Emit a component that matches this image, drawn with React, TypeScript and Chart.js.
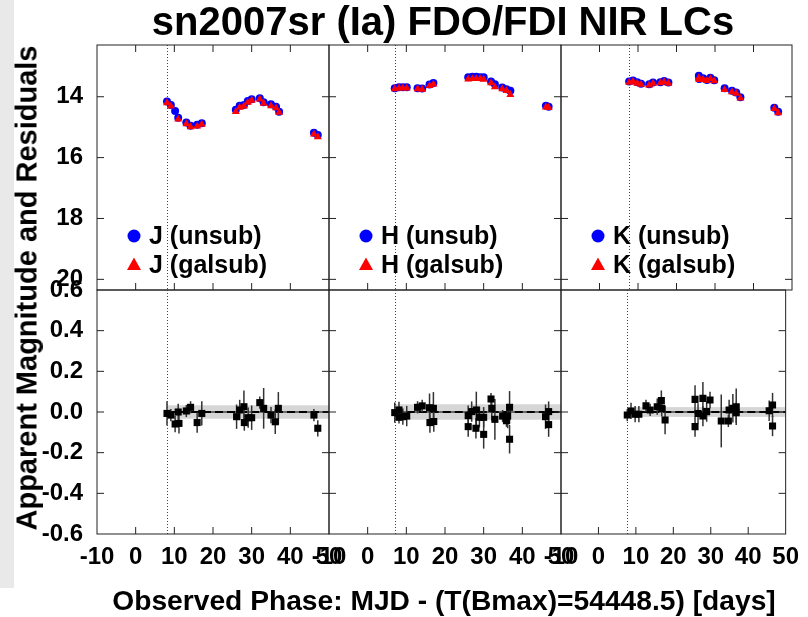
import React, { useEffect, useRef } from "react";
import { Chart, registerables } from "chart.js";
Chart.register(...registerables);

// ---------- data ----------
const X_TICKS = [-10, 0, 10, 20, 30, 40, 50];
const MAG_TICKS = [14, 16, 18, 20];
const RES_TICKS = [-0.6, -0.4, -0.2, 0.0, 0.2, 0.4, 0.6];
const BANDS = ["J", "H", "K"];

// J band light curve
const J_PHASE = [8.1, 9.1, 10.2, 11.0, 13.1, 14.2, 15.9, 17.1, 25.9, 26.9, 28.0, 29.0, 30.0, 32.1, 33.1, 35.0, 36.3, 37.1, 46.1, 47.1];
const J_UNSUB = [14.16, 14.27, 14.47, 14.69, 14.85, 14.95, 14.92, 14.87, 14.43, 14.30, 14.27, 14.14, 14.08, 14.05, 14.18, 14.25, 14.33, 14.49, 15.18, 15.26];
const J_GALSUB = [14.20, 14.31, null, 14.74, 14.89, 14.99, 14.97, 14.91, 14.49, 14.35, 14.31, 14.19, 14.12, 14.08, 14.22, 14.30, 14.37, 14.52, 15.23, 15.32];
// J residuals
const J_RES_PHASE = [8.1, 9.1, 10.2, 11.0, 11.2, 13.1, 14.2, 15.9, 17.1, 26.1, 26.9, 28.0, 28.1, 29.1, 30.0, 32.1, 33.1, 35.0, 36.1, 36.9, 46.1, 47.1];
const J_RES = [-0.007, -0.015, -0.059, 0.000, -0.056, 0.005, 0.023, -0.052, -0.007, -0.023, 0.010, 0.026, -0.052, -0.028, -0.028, 0.046, 0.018, -0.015, -0.048, 0.018, -0.015, -0.080];
const J_RES_ERR = [0.06, 0.03, 0.04, 0.04, 0.05, 0.03, 0.03, 0.05, 0.06, 0.06, 0.05, 0.08, 0.04, 0.05, 0.06, 0.03, 0.10, 0.04, 0.06, 0.08, 0.03, 0.04];

// H band light curve
const H_PHASE = [7.0, 8.1, 9.1, 10.1, 12.9, 14.1, 16.0, 17.0, 26.0, 27.1, 28.1, 29.1, 30.0, 31.9, 32.9, 34.8, 35.9, 36.9, 46.1, 46.8];
const H_UNSUB = [13.72, 13.69, 13.69, 13.69, 13.72, 13.73, 13.60, 13.55, 13.36, 13.34, 13.34, 13.36, 13.36, 13.50, 13.59, 13.70, 13.75, 13.80, 14.30, 14.33];
const H_GALSUB = [13.74, 13.72, 13.72, 13.72, 13.74, 13.76, 13.64, 13.59, 13.42, 13.41, 13.41, 13.41, 13.43, 13.55, 13.68, 13.74, 13.80, 13.93, 14.34, 14.36];
// H residuals
const H_RES_PHASE = [7.0, 8.1, 8.1, 9.1, 10.1, 12.9, 14.1, 16.0, 17.0, 16.1, 17.1, 26.0, 26.0, 26.9, 28.1, 28.0, 28.9, 30.0, 30.0, 31.9, 32.1, 32.9, 34.9, 35.9, 36.2, 36.7, 36.7, 46.0, 46.8, 46.8];
const H_RES = [-0.003, 0.010, -0.026, -0.023, -0.020, 0.023, 0.030, 0.021, 0.018, -0.052, -0.047, -0.018, -0.072, 0.002, 0.010, -0.080, -0.026, -0.026, -0.110, 0.064, 0.018, -0.036, -0.020, -0.043, -0.020, 0.023, -0.134, -0.023, 0.002, -0.062];
const H_RES_ERR = [0.05, 0.04, 0.03, 0.04, 0.05, 0.03, 0.03, 0.07, 0.08, 0.05, 0.05, 0.05, 0.05, 0.05, 0.09, 0.05, 0.05, 0.05, 0.07, 0.03, 0.06, 0.10, 0.03, 0.03, 0.06, 0.08, 0.07, 0.06, 0.05, 0.06];

// K band light curve
const K_PHASE = [7.7, 8.7, 9.8, 10.8, 12.9, 13.9, 15.8, 16.8, 17.9, 25.8, 25.9, 26.9, 27.9, 28.8, 29.8, 32.5, 34.4, 35.5, 36.6, 45.4, 46.4];
const K_UNSUB = [13.50, 13.47, 13.52, 13.57, 13.59, 13.53, 13.52, 13.48, 13.53, 13.31, 13.42, 13.39, 13.45, 13.38, 13.46, 13.72, 13.80, 13.86, 14.02, 14.36, 14.49];
const K_GALSUB = [13.53, 13.50, 13.56, 13.60, 13.62, 13.56, 13.55, 13.51, 13.56, 13.38, 13.44, 13.43, 13.47, 13.41, 13.48, 13.77, 13.84, 13.89, 14.05, 14.39, 14.53];
// K residuals
const K_RES_PHASE = [7.7, 8.7, 9.8, 10.8, 12.7, 13.8, 15.7, 16.8, 16.9, 17.8, 25.8, 25.8, 26.6, 27.9, 27.9, 28.9, 29.8, 32.8, 34.7, 34.9, 35.9, 36.8, 36.8, 45.6, 46.5, 46.5];
const K_RES = [-0.015, 0.005, -0.011, -0.011, 0.030, 0.010, 0.026, 0.056, 0.018, -0.039, 0.062, -0.072, -0.007, 0.067, -0.020, 0.002, 0.059, -0.044, -0.044, 0.010, 0.018, 0.026, -0.003, 0.006, 0.034, -0.069];
const K_RES_ERR = [0.03, 0.04, 0.04, 0.04, 0.03, 0.03, 0.04, 0.05, 0.04, 0.07, 0.07, 0.05, 0.05, 0.08, 0.05, 0.05, 0.04, 0.13, 0.03, 0.05, 0.07, 0.09, 0.05, 0.05, 0.06, 0.05];

// first-epoch markers (dotted lines) and residual scatter bands
const FIRST_EPOCH = [8.1, 7.0, 7.7];
const RES_SIGMA = [0.033, 0.038, 0.024];

const TITLE = "sn2007sr (Ia) FDO/FDI NIR LCs";
const X_LABEL = "Observed Phase: MJD - (T(Bmax)=54448.5) [days]";
const Y_LABEL = "Apparent Magnitude and Residuals";

// ---------- layout ----------
const W = 808, H = 617;
const COLS = [[97, 329], [329, 561], [561, 792]];
const ROW_TOP = [45, 290];
const ROW_BOT = [290, 534];
const FONT = '"Liberation Sans", Arial, Helvetica, sans-serif';
const Y_AXIS_W = 70;
const X_AXIS_H = 40;

const LC = [
  { phase: J_PHASE, unsub: J_UNSUB, galsub: J_GALSUB },
  { phase: H_PHASE, unsub: H_UNSUB, galsub: H_GALSUB },
  { phase: K_PHASE, unsub: K_UNSUB, galsub: K_GALSUB },
];
const RES = [
  { phase: J_RES_PHASE, res: J_RES, err: J_RES_ERR },
  { phase: H_RES_PHASE, res: H_RES, err: H_RES_ERR },
  { phase: K_RES_PHASE, res: K_RES, err: K_RES_ERR },
];

type PanelSpec = { col: number; row: "top" | "bottom" };
const PANELS: PanelSpec[] = [
  { col: 0, row: "top" }, { col: 1, row: "top" }, { col: 2, row: "top" },
  { col: 0, row: "bottom" }, { col: 1, row: "bottom" }, { col: 2, row: "bottom" },
];

function xy(xs: number[], ys: (number | null)[]) {
  const out: { x: number; y: number }[] = [];
  xs.forEach((x, i) => {
    const y = ys[i];
    if (y !== null && y !== undefined) out.push({ x, y });
  });
  return out;
}

function makePlugin(p: PanelSpec) {
  const isTop = p.row === "top";
  return {
    id: "panelDecor" + p.col + p.row,
    beforeDatasetsDraw(chart: any) {
      const { ctx, chartArea: a, scales } = chart;
      const xs = scales.x, ys = scales.y;
      ctx.save();
      if (!isTop) {
        const t0 = FIRST_EPOCH[p.col];
        const x0 = xs.getPixelForValue(t0);
        const x1 = xs.getPixelForValue(50);
        const s = RES_SIGMA[p.col];
        const yt = ys.getPixelForValue(s), yb = ys.getPixelForValue(-s);
        ctx.fillStyle = "#d6d6d6";
        ctx.fillRect(x0, yt, x1 - x0, yb - yt);
        const y0 = ys.getPixelForValue(0);
        ctx.strokeStyle = "#000";
        ctx.lineWidth = 1;
        ctx.beginPath(); ctx.moveTo(x0, y0); ctx.lineTo(x1, y0); ctx.stroke();
        ctx.setLineDash([8, 4]);
        ctx.lineWidth = 2;
        ctx.beginPath(); ctx.moveTo(x0, y0); ctx.lineTo(x1, y0); ctx.stroke();
        ctx.setLineDash([]);
        // error bars
        const r = RES[p.col];
        ctx.strokeStyle = "#333";
        ctx.lineWidth = 1.5;
        r.phase.forEach((ph, i) => {
          const px = xs.getPixelForValue(ph);
          ctx.beginPath();
          ctx.moveTo(px, ys.getPixelForValue(r.res[i] + r.err[i]));
          ctx.lineTo(px, ys.getPixelForValue(r.res[i] - r.err[i]));
          ctx.stroke();
        });
      }
      // dotted first-epoch line
      const xd = Math.round(xs.getPixelForValue(FIRST_EPOCH[p.col])) + 0.5;
      ctx.strokeStyle = "#444";
      ctx.lineWidth = 1;
      ctx.setLineDash([1, 2]);
      ctx.beginPath(); ctx.moveTo(xd, a.top); ctx.lineTo(xd, a.bottom); ctx.stroke();
      ctx.setLineDash([]);
      ctx.restore();
    },
    afterDraw(chart: any) {
      const { ctx, chartArea: a, scales } = chart;
      const xs = scales.x, ys = scales.y;
      ctx.save();
      ctx.strokeStyle = "#222";
      ctx.lineWidth = 1;
      ctx.strokeRect(a.left, a.top, a.right - a.left, a.bottom - a.top);
      const TL = 7;
      ctx.beginPath();
      X_TICKS.forEach((v) => {
        const px = xs.getPixelForValue(v);
        if (px <= a.left + 1 || px >= a.right - 1) return;
        ctx.moveTo(px, a.bottom); ctx.lineTo(px, a.bottom - TL);
        if (isTop) { ctx.moveTo(px, a.top); ctx.lineTo(px, a.top + TL); }
      });
      (isTop ? MAG_TICKS : RES_TICKS).forEach((v) => {
        const py = ys.getPixelForValue(v);
        if (py <= a.top + 1 || py >= a.bottom - 1) return;
        ctx.moveTo(a.left, py); ctx.lineTo(a.left + TL, py);
        ctx.moveTo(a.right, py); ctx.lineTo(a.right - TL, py);
      });
      ctx.stroke();
      if (isTop) {
        const band = BANDS[p.col];
        const cx = a.left + 37;
        const y1 = a.top + 191, y2 = a.top + 220;
        ctx.fillStyle = "#0000ff";
        ctx.beginPath(); ctx.arc(cx, y1, 6.5, 0, Math.PI * 2); ctx.fill();
        ctx.fillStyle = "#ff0000";
        ctx.beginPath();
        ctx.moveTo(cx, y2 - 7.5); ctx.lineTo(cx + 7, y2 + 5); ctx.lineTo(cx - 7, y2 + 5);
        ctx.closePath(); ctx.fill();
        ctx.fillStyle = "#000";
        ctx.font = "bold 25px " + FONT;
        ctx.textBaseline = "middle";
        ctx.textAlign = "left";
        ctx.fillText(band + " (unsub)", a.left + 52, y1 + 1);
        ctx.fillText(band + " (galsub)", a.left + 52, y2 + 1);
      }
      ctx.restore();
    },
  };
}

function buildConfig(p: PanelSpec): any {
  const isTop = p.row === "top";
  const [left, right] = COLS[p.col];
  const [top, bottom] = isTop ? ROW_TOP : ROW_BOT;
  const showY = p.col === 0;
  const showX = !isTop;
  const tickFont = { family: FONT, size: 24, weight: "bold" as const };
  const noGrid = { display: false, drawTicks: false, tickLength: 0 };

  const datasets: any[] = isTop
    ? [
        {
          label: BANDS[p.col] + " (galsub)",
          data: xy(LC[p.col].phase, LC[p.col].galsub),
          pointStyle: "triangle", pointRadius: 4.6, borderWidth: 0,
          backgroundColor: "#ff0000", borderColor: "#ff0000", order: 0,
        },
        {
          label: BANDS[p.col] + " (unsub)",
          data: xy(LC[p.col].phase, LC[p.col].unsub),
          pointStyle: "circle", pointRadius: 4, borderWidth: 0,
          backgroundColor: "#0000ff", borderColor: "#0000ff", order: 1,
        },
      ]
    : [
        {
          label: BANDS[p.col] + " residuals",
          data: xy(RES[p.col].phase, RES[p.col].res),
          pointStyle: "rect", pointRadius: 5, borderWidth: 0,
          backgroundColor: "#000", borderColor: "#000",
        },
      ];

  const xScale: any = {
    type: "linear", min: -10, max: 50, display: showX,
    grid: noGrid, border: { display: false },
    afterBuildTicks: (s: any) => { s.ticks = X_TICKS.map((v) => ({ value: v })); },
    ticks: {
      autoSkip: false, maxRotation: 0, minRotation: 0, padding: 9, color: "#000",
      font: tickFont, callback: (v: any) => String(v),
    },
  };
  if (showX) xScale.afterFit = (s: any) => { s.height = X_AXIS_H; };

  const yScale: any = isTop
    ? {
        type: "linear", min: 12.3, max: 20.35, reverse: true, display: showY,
        grid: noGrid, border: { display: false },
        afterBuildTicks: (s: any) => { s.ticks = MAG_TICKS.map((v) => ({ value: v })); },
        ticks: { autoSkip: false, padding: 14, color: "#000", font: tickFont, callback: (v: any) => String(v) },
      }
    : {
        type: "linear", min: -0.6, max: 0.6, display: showY,
        grid: noGrid, border: { display: false },
        afterBuildTicks: (s: any) => { s.ticks = RES_TICKS.map((v) => ({ value: v })); },
        ticks: { autoSkip: false, padding: 14, color: "#000", font: tickFont, callback: (v: any) => Number(v).toFixed(1) },
      };
  if (showY) yScale.afterFit = (s: any) => { s.width = Y_AXIS_W; };

  return {
    type: "scatter",
    data: { datasets },
    options: {
      responsive: false,
      animation: false,
      devicePixelRatio: 1,
      events: [],
      layout: {
        autoPadding: false,
        padding: {
          left: left - (showY ? Y_AXIS_W : 0),
          top,
          right: W - right,
          bottom: H - bottom - (showX ? X_AXIS_H : 0),
        },
      },
      plugins: { legend: { display: false }, tooltip: { enabled: false }, title: { display: false } },
      scales: { x: xScale, y: yScale },
    },
    plugins: [makePlugin(p)],
  };
}

export default function App() {
  const refs = useRef<(HTMLCanvasElement | null)[]>([]);
  useEffect(() => {
    const charts = PANELS.map((p, i) => new Chart(refs.current[i] as HTMLCanvasElement, buildConfig(p)));
    return () => charts.forEach((c) => c.destroy());
  }, []);
  return (
    <div style={{ position: "absolute", left: 0, top: 0, width: W, height: H, background: "#fff", overflow: "hidden", fontFamily: FONT }}>
      <div style={{ position: "absolute", left: 0, top: 0, width: 14, height: 588, background: "#e9e9e9" }} />
      {PANELS.map((p, i) => (
        <canvas
          key={i}
          ref={(el) => { refs.current[i] = el; }}
          width={W}
          height={H}
          style={{ position: "absolute", left: 0, top: 0, width: W, height: H }}
        />
      ))}
      <div style={{ position: "absolute", left: 0, width: 886, top: 1, textAlign: "center", fontSize: 40, fontWeight: "bold", lineHeight: 1, whiteSpace: "nowrap" }}>{TITLE}</div>
      <div style={{ position: "absolute", left: 0, width: 888, top: 586, textAlign: "center", fontSize: 28.2, fontWeight: "bold", lineHeight: 1, whiteSpace: "nowrap" }}>{X_LABEL}</div>
      <div style={{ position: "absolute", left: 27, top: 288, width: 600, transform: "translate(-50%, -50%) rotate(-90deg)", textAlign: "center", fontSize: 29, fontWeight: "bold", lineHeight: 1, whiteSpace: "nowrap" }}>{Y_LABEL}</div>
    </div>
  );
}
